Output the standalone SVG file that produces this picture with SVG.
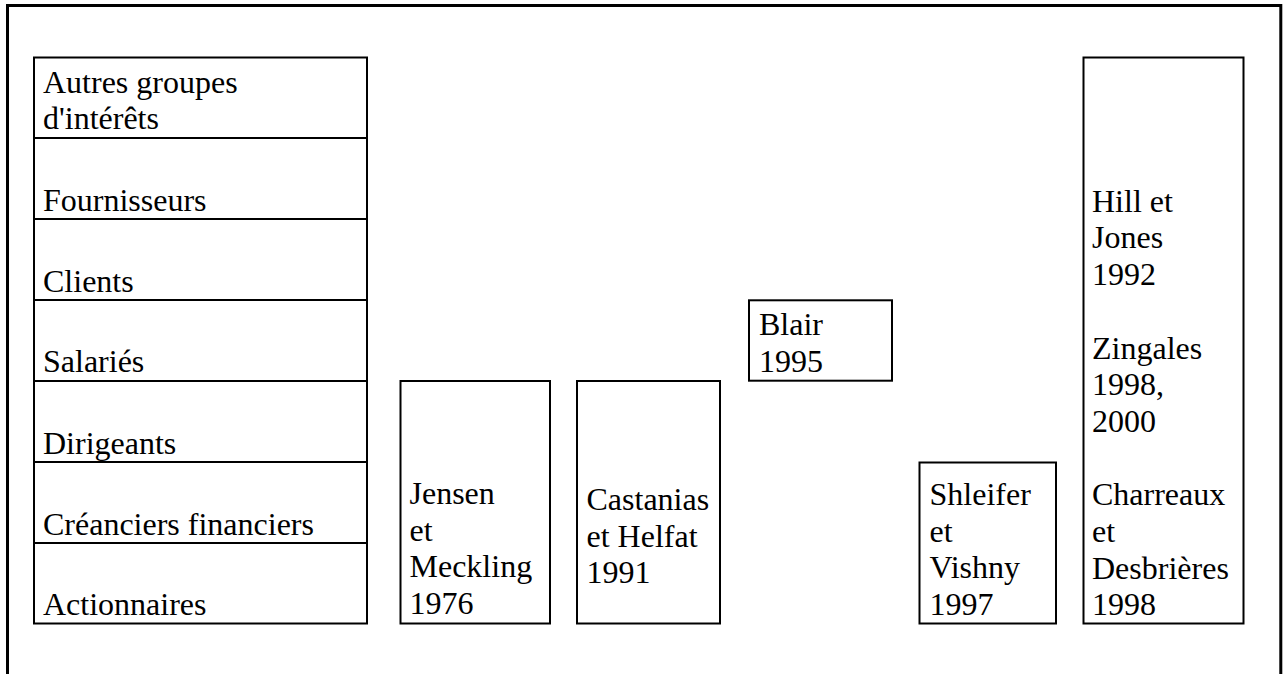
<svg xmlns="http://www.w3.org/2000/svg" width="1288" height="674" viewBox="0 0 1288 674">
  <style>
    .box { fill: #ffffff; stroke: #000000; stroke-width: 2; }
    .rule { stroke: #000000; stroke-width: 2; }
    .frame { fill: none; stroke: #000000; stroke-width: 3; }
    .lbl { font-size: 32px; fill: #000000; }
  </style>
  <rect x="0" y="0" width="1288" height="674" fill="#ffffff"/>

  <!-- outer frame, open at the bottom -->
  <path class="frame" d="M7.5,674 V5.5 H1280.8 V674"/>

  <g font-family="Liberation Serif, Tinos, Times New Roman, serif">
  <!-- stakeholder column -->
  <g id="stakeholders">
    <rect class="box" x="34" y="57.5" width="333" height="566"/>
    <line class="rule" x1="34" y1="138" x2="367" y2="138"/>
    <line class="rule" x1="34" y1="219" x2="367" y2="219"/>
    <line class="rule" x1="34" y1="300" x2="367" y2="300"/>
    <line class="rule" x1="34" y1="381" x2="367" y2="381"/>
    <line class="rule" x1="34" y1="462" x2="367" y2="462"/>
    <line class="rule" x1="34" y1="543" x2="367" y2="543"/>
    <text class="lbl" x="43" y="92.5">Autres groupes</text>
    <text class="lbl" x="43" y="129.2">d'intérêts</text>
    <text class="lbl" x="43" y="211">Fournisseurs</text>
    <text class="lbl" x="43" y="292">Clients</text>
    <text class="lbl" x="43" y="372">Salariés</text>
    <text class="lbl" x="43" y="453.5">Dirigeants</text>
    <text class="lbl" x="43" y="534.5">Créanciers financiers</text>
    <text class="lbl" x="43" y="615">Actionnaires</text>
  </g>

  <g id="jensen-meckling">
    <rect class="box" x="400.5" y="381" width="149.5" height="242.5"/>
    <text class="lbl" x="409.5" y="504">Jensen</text>
    <text class="lbl" x="409.5" y="540.7">et</text>
    <text class="lbl" x="409.5" y="577.4">Meckling</text>
    <text class="lbl" x="409.5" y="614">1976</text>
  </g>

  <g id="castanias-helfat">
    <rect class="box" x="577" y="381" width="143" height="242.5"/>
    <text class="lbl" x="586.5" y="510">Castanias</text>
    <text class="lbl" x="586.5" y="546.7">et Helfat</text>
    <text class="lbl" x="586.5" y="583.4">1991</text>
  </g>

  <g id="blair">
    <rect class="box" x="749" y="300.3" width="143" height="80.4"/>
    <text class="lbl" x="759" y="335">Blair</text>
    <text class="lbl" x="759" y="371.7">1995</text>
  </g>

  <g id="shleifer-vishny">
    <rect class="box" x="919.5" y="462.5" width="136.5" height="161"/>
    <text class="lbl" x="929.5" y="505">Shleifer</text>
    <text class="lbl" x="929.5" y="541.7">et</text>
    <text class="lbl" x="929.5" y="578.4">Vishny</text>
    <text class="lbl" x="929.5" y="615.1">1997</text>
  </g>

  <g id="hill-zingales-charreaux">
    <rect class="box" x="1083.5" y="57.5" width="160" height="566"/>
    <text class="lbl" x="1092" y="211.7">Hill et</text>
    <text class="lbl" x="1092" y="248.4">Jones</text>
    <text class="lbl" x="1092" y="285.1">1992</text>
    <text class="lbl" x="1092" y="358.5">Zingales</text>
    <text class="lbl" x="1092" y="395.2">1998,</text>
    <text class="lbl" x="1092" y="431.9">2000</text>
    <text class="lbl" x="1092" y="505.3">Charreaux</text>
    <text class="lbl" x="1092" y="542">et</text>
    <text class="lbl" x="1092" y="578.7">Desbrières</text>
    <text class="lbl" x="1092" y="615.4">1998</text>
  </g>
  </g>

  <g id="connectors"></g>
</svg>
